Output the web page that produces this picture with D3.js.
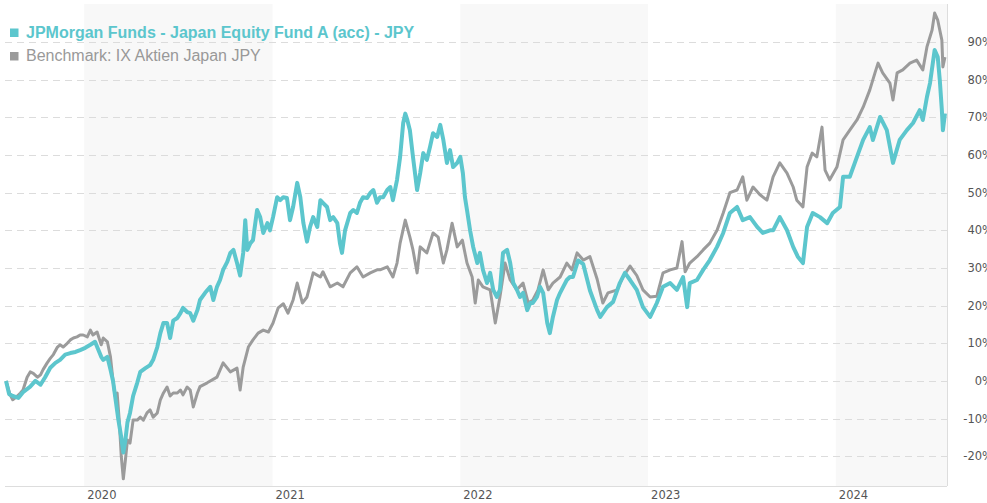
<!DOCTYPE html>
<html>
<head>
<meta charset="utf-8">
<script src="https://cdn.jsdelivr.net/npm/d3@7"></script>
<style>
  html, body { margin: 0; padding: 0; background: #fff; }
  #chart { width: 987px; height: 503px; }
</style>
</head>
<body>
<div id="chart"></div>
<script>
// Fonds: JPMorgan Funds - Japan Equity Fund A (acc) - JPY (Wertentwicklung in %)
const fundDates = [
  "2019-08-02","2019-08-08","2019-08-15","2019-08-26","2019-09-04","2019-09-18","2019-09-28","2019-10-08","2019-10-17","2019-10-27",
  "2019-11-06","2019-11-15","2019-11-25","2019-12-05","2019-12-15","2019-12-24","2020-01-03","2020-01-13","2020-01-22","2020-02-03",
  "2020-02-07","2020-02-15","2020-02-21","2020-02-26","2020-03-03","2020-03-07","2020-03-13","2020-03-17","2020-03-21","2020-03-25",
  "2020-03-30","2020-04-05","2020-04-13","2020-04-19","2020-04-29","2020-05-08","2020-05-14","2020-05-22","2020-05-28","2020-06-03",
  "2020-06-10","2020-06-16","2020-06-22","2020-06-30","2020-07-06","2020-07-11","2020-07-19","2020-07-25","2020-07-31","2020-08-08",
  "2020-08-13","2020-08-23","2020-09-02","2020-09-08","2020-09-15","2020-09-21","2020-09-27","2020-10-05","2020-10-11","2020-10-17",
  "2020-10-24","2020-10-30","2020-11-05","2020-11-09","2020-11-13","2020-11-19","2020-11-24","2020-12-02","2020-12-08","2020-12-14",
  "2020-12-22","2020-12-27","2021-01-02","2021-01-10","2021-01-16","2021-01-22","2021-01-29","2021-02-04","2021-02-10","2021-02-18",
  "2021-02-24","2021-03-02","2021-03-09","2021-03-15","2021-03-21","2021-03-29","2021-04-04","2021-04-09","2021-04-17","2021-04-23",
  "2021-04-29","2021-05-07","2021-05-12","2021-05-16","2021-05-22","2021-06-01","2021-06-07","2021-06-14","2021-06-20","2021-06-26",
  "2021-07-04","2021-07-10","2021-07-16","2021-07-23","2021-07-29","2021-08-04","2021-08-12","2021-08-18","2021-08-23","2021-08-31",
  "2021-09-06","2021-09-12","2021-09-16","2021-09-20","2021-09-25","2021-10-01","2021-10-09","2021-10-15","2021-10-21","2021-10-28",
  "2021-11-03","2021-11-09","2021-11-17","2021-11-23","2021-11-29","2021-12-06","2021-12-12","2021-12-18","2021-12-26","2022-01-01",
  "2022-01-06","2022-01-10","2022-01-14","2022-01-20","2022-01-26","2022-02-03","2022-02-08","2022-02-14","2022-02-22","2022-02-28",
  "2022-03-06","2022-03-13","2022-03-19","2022-03-25","2022-04-02","2022-04-08","2022-04-14","2022-04-21","2022-04-27","2022-05-03",
  "2022-05-11","2022-05-17","2022-05-22","2022-05-30","2022-06-05","2022-06-11","2022-06-19","2022-06-24","2022-06-30","2022-07-08",
  "2022-07-14","2022-07-20","2022-07-27","2022-08-02","2022-08-08","2022-08-18","2022-08-28","2022-09-10","2022-09-24","2022-09-30",
  "2022-10-13","2022-10-25","2022-11-07","2022-11-17","2022-11-27","2022-12-10","2022-12-22","2023-01-05","2023-01-18","2023-01-30",
  "2023-02-13","2023-02-26","2023-03-10","2023-03-18","2023-03-23","2023-04-06","2023-04-18","2023-05-01","2023-05-15","2023-05-27",
  "2023-06-09","2023-06-23","2023-07-04","2023-07-18","2023-08-01","2023-08-12","2023-08-26","2023-09-01","2023-09-14","2023-09-28",
  "2023-10-10","2023-10-19","2023-10-29","2023-11-06","2023-11-17","2023-12-01","2023-12-15","2023-12-26","2024-01-09","2024-01-15",
  "2024-01-28","2024-02-11","2024-02-23","2024-03-07","2024-03-13","2024-03-27","2024-04-09","2024-04-21","2024-05-04","2024-05-18",
  "2024-05-30","2024-06-12","2024-06-18","2024-06-26","2024-07-02","2024-07-11","2024-07-17","2024-07-21","2024-07-25","2024-07-27",
  "2024-07-31"
];
const fundValues = [
  0, -3.5, -4, -4.5, -3, -1.5, 0, -1, 1, 3.5,
  4.8, 5.6, 7, 7.4, 7.7, 8.2, 8.8, 9.6, 10.4, 6.4,
  5.6, 6.4, 3, 0, -6, -10, -15, -19, -15.7, -11,
  -8.5, -4, -0.5, 2.4, 3.4, 4.2, 5.6, 9, 12.7, 15.4,
  15.4, 11.4, 16, 16.7, 18, 19.4, 18.3, 18, 16, 18.8,
  21.5, 23.4, 25, 21.5, 25, 26.8, 29.5, 31.6, 34, 34.8,
  31.3, 28, 34, 42.7, 34.8, 36.6, 37.4, 45.4, 43.5, 39.3,
  41.9, 40, 43.5, 48.8, 48, 48.8, 48.6, 42.7, 46.2, 52.6,
  48.8, 41.9, 37, 40.9, 43.5, 40.9, 48, 47.3, 46.2, 42.7,
  43.5, 41.9, 36.6, 34, 40, 44.6, 45.4, 44.6, 47.3, 48.8,
  48.6, 49.9, 50.7, 47.3, 48.8, 48.8, 50.7, 51.5, 48, 53.4,
  59.5, 68.5, 71, 69.3, 66.6, 59.5, 50.7, 55.2, 60.5, 58.7,
  62.1, 65.8, 64.8, 68, 64, 57.9, 61.3, 56.8, 57.9, 59.5,
  55.2, 48.8, 45.4, 40, 35.6, 31.3, 34, 29.5, 26, 28.7,
  24.2, 22.3, 24.2, 34, 34.8, 31.3, 26, 24.2, 22.3, 23.4,
  18.8, 20.7, 20.7, 22.3, 25, 23.4, 15.4, 12.7, 17, 21.5,
  23.4, 25, 26.8, 27.6, 27.6, 32, 31, 24, 18.8, 17,
  19.6, 21, 26, 28.7, 26.8, 24.2, 19.6, 17, 20.7, 25,
  26, 24.2, 27.6, 19.6, 26, 26.8, 29.5, 32.1, 35.6, 39.3,
  44.6, 46.2, 42.7, 43.5, 40.9, 39.3, 40, 40, 43.5, 40,
  35.6, 33, 31.3, 40.9, 44.6, 43.5, 41.9, 44.6, 46.2, 54.2,
  54.2, 59.5, 64, 67.4, 64, 70.1, 66.6, 57.9, 64, 66.6,
  68.5, 71.9, 69.3, 75.4, 79.1, 87.9, 86, 79.9, 71.9, 66.6,
  71
];

// Benchmark: IX Aktien Japan JPY
const benchDates = [
  "2019-08-02","2019-08-10","2019-08-15","2019-08-24","2019-08-30","2019-09-04","2019-09-12","2019-09-18","2019-09-24","2019-10-02",
  "2019-10-08","2019-10-13","2019-10-21","2019-10-27","2019-11-02","2019-11-10","2019-11-15","2019-11-21","2019-11-29","2019-12-05",
  "2019-12-11","2019-12-18","2019-12-24","2019-12-30","2020-01-07","2020-01-13","2020-01-18","2020-01-26","2020-02-03","2020-02-07",
  "2020-02-15","2020-02-21","2020-02-26","2020-03-01","2020-03-05","2020-03-09","2020-03-13","2020-03-17","2020-03-21","2020-03-25",
  "2020-03-30","2020-04-05","2020-04-13","2020-04-19","2020-04-25","2020-05-02","2020-05-08","2020-05-14","2020-05-22","2020-05-28",
  "2020-06-03","2020-06-10","2020-06-16","2020-06-22","2020-06-30","2020-07-06","2020-07-11","2020-07-19","2020-07-25","2020-07-31",
  "2020-08-08","2020-08-13","2020-08-27","2020-09-15","2020-09-27","2020-10-11","2020-10-24","2020-10-30","2020-11-05","2020-11-15",
  "2020-11-24","2020-12-04","2020-12-14","2020-12-24","2021-01-02","2021-01-12","2021-01-22","2021-01-31","2021-02-10","2021-02-18",
  "2021-02-28","2021-03-09","2021-03-21","2021-04-04","2021-04-09","2021-04-23","2021-05-07","2021-05-18","2021-06-01","2021-06-14",
  "2021-06-26","2021-07-10","2021-07-23","2021-07-29","2021-08-12","2021-08-23","2021-08-31","2021-09-06","2021-09-16","2021-09-25",
  "2021-10-01","2021-10-09","2021-10-15","2021-10-28","2021-11-09","2021-11-19","2021-11-29","2021-12-06","2021-12-16","2021-12-26",
  "2022-01-05","2022-01-14","2022-01-24","2022-01-30","2022-02-05","2022-02-14","2022-02-28","2022-03-10","2022-03-19","2022-03-29",
  "2022-04-08","2022-04-21","2022-05-03","2022-05-13","2022-05-22","2022-06-01","2022-06-11","2022-06-21","2022-06-30","2022-07-14",
  "2022-07-27","2022-08-06","2022-08-16","2022-08-28","2022-09-10","2022-09-24","2022-10-05","2022-10-15","2022-11-02","2022-11-13",
  "2022-11-27","2022-12-10","2022-12-22","2023-01-05","2023-01-18","2023-01-30","2023-02-13","2023-02-26","2023-03-08","2023-03-14",
  "2023-03-23","2023-04-06","2023-04-18","2023-05-01","2023-05-15","2023-05-27","2023-06-09","2023-06-23","2023-07-04","2023-07-12",
  "2023-07-24","2023-08-06","2023-08-20","2023-09-01","2023-09-14","2023-09-28","2023-10-10","2023-10-17","2023-10-29","2023-11-06",
  "2023-11-16","2023-11-25","2023-12-05","2023-12-11","2023-12-20","2024-01-03","2024-01-15","2024-01-28","2024-02-11","2024-02-23",
  "2024-03-07","2024-03-17","2024-03-23","2024-04-01","2024-04-15","2024-04-21","2024-04-29","2024-05-10","2024-05-24","2024-06-06",
  "2024-06-18","2024-06-26","2024-07-06","2024-07-11","2024-07-17","2024-07-25","2024-07-27","2024-07-31"
];
const benchValues = [
  0, -3.7, -5, -4, -3.2, -2.4, 1, 2.4, 2, 1,
  1.6, 3, 4.8, 6, 7, 9, 9.6, 9, 10, 10.9,
  11.4, 11.7, 12.2, 12.2, 11.7, 13.5, 12.2, 13, 9.6, 11.4,
  10.4, 6.4, 0, -4, -3.2, -10.4, -20, -26, -21, -15.7,
  -16.5, -10.4, -10.4, -9.6, -10.4, -8.5, -7.7, -9.6, -8.5, -5,
  -3.2, -1.6, -4, -3.2, -3.2, -2.4, -3.7, -1.6, -2.4, -6.9,
  -3.2, -1.5, -0.5, 1, 4.8, 2.4, 3.4, -2.4, 3.7, 9,
  10.9, 12.7, 13.5, 13, 15.4, 19.4, 20.5, 18, 21.5, 26,
  20.7, 22.3, 28.7, 27.6, 29, 25, 26, 25, 28.7, 30.3,
  27.6, 28.7, 29.5, 29.5, 30.3, 27.6, 31.3, 36.6, 42.7, 38.2,
  34.8, 28.7, 35.6, 34, 39.3, 38.2, 31.3, 34.8, 41.9, 35.6,
  37.4, 31.3, 27.6, 20.7, 26.8, 25, 24.2, 15.4, 22.3, 31.3,
  26.8, 24.2, 26, 20.7, 21.5, 24.2, 29.5, 24.2, 26, 27.6,
  31.3, 29.5, 34, 32.1, 33, 27, 20.7, 23.4, 24.2, 27.6,
  30.5, 28, 24.2, 22.3, 22.5, 28.7, 29.5, 30, 37, 29,
  31.3, 33, 34.8, 36.6, 40, 44.6, 50, 50.7, 54.2, 48,
  51.5, 49.5, 48, 54.2, 57.9, 55.2, 51.5, 48, 46.2, 56.8,
  60.5, 59.5, 67.4, 56, 53.4, 56.8, 64, 66.6, 69.3, 72.7,
  77.3, 81.8, 84.4, 81.8, 79.1, 74.6, 81.8, 82.6, 84.4, 85.2,
  82.6, 88.7, 93.2, 97.7, 95.8, 90.5, 83.4, 86
];

const yTicks = [-20, -10, 0, 10, 20, 30, 40, 50, 60, 70, 80, 90];
const yearTicks = ["2020", "2021", "2022", "2023", "2024"];
const legendLabels = ["JPMorgan Funds - Japan Equity Fund A (acc) - JPY", "Benchmark: IX Aktien Japan JPY"];

const colors = { fund: "#5cc6cd", bench: "#9b9b9b" };

const parse = d3.timeParse("%Y-%m-%d");
const fund = fundDates.map((d, i) => ({ date: parse(d), value: fundValues[i] }));
const bench = benchDates.map((d, i) => ({ date: parse(d), value: benchValues[i] }));

const width = 987, height = 503;
const margins = { top: 4, right: 40, bottom: 17, left: 5 };

const svg = d3.select("#chart")
  .append("svg")
  .attr("width", width)
  .attr("height", height);

// Skalen
const xScale = d3.scaleTime()
  .domain([parse("2019-07-31"), parse("2024-08-04")])
  .range([margins.left, width - margins.right]);

const yScale = d3.scaleLinear()
  .domain([-27.9, 100.1])
  .range([height - margins.bottom, margins.top]);

const plotBottom = height - margins.bottom;
const plotRight = width - margins.right;

// Jahresbänder (jedes zweite Jahr grau hinterlegt)
const bandYears = [2020, 2022, 2024];
svg.append("g")
  .selectAll("rect")
  .data(bandYears)
  .join("rect")
  .attr("x", d => xScale(new Date(d, 0, 1)))
  .attr("y", margins.top)
  .attr("width", d => Math.min(plotRight, xScale(new Date(d + 1, 0, 1))) - xScale(new Date(d, 0, 1)))
  .attr("height", plotBottom - margins.top)
  .attr("fill", "#f8f8f8");

// Gitterlinien
svg.append("g")
  .selectAll("line")
  .data(yTicks)
  .join("line")
  .attr("x1", margins.left)
  .attr("x2", plotRight)
  .attr("y1", d => Math.round(yScale(d)) + 0.5)
  .attr("y2", d => Math.round(yScale(d)) + 0.5)
  .attr("stroke", "#dcdcdc")
  .attr("stroke-width", 1)
  .attr("stroke-dasharray", "7,5");

// Rahmen rechts und unten
svg.append("line")
  .attr("x1", plotRight + 0.5).attr("x2", plotRight + 0.5)
  .attr("y1", margins.top).attr("y2", plotBottom)
  .attr("stroke", "#dddddd");
svg.append("line")
  .attr("x1", margins.left).attr("x2", plotRight)
  .attr("y1", plotBottom + 0.5).attr("y2", plotBottom + 0.5)
  .attr("stroke", "#dddddd");

// Y-Achse rechts (im Original am Fensterrand abgeschnitten)
svg.append("g")
  .selectAll("text")
  .data(yTicks)
  .join("text")
  .attr("x", 993)
  .attr("y", d => yScale(d))
  .attr("dy", "0.35em")
  .attr("text-anchor", "end")
  .attr("font-family", "Verdana, 'DejaVu Sans', sans-serif")
  .attr("font-size", "11.5px")
  .attr("fill", "#555")
  .text(d => `${d}%`);

// X-Achse (Jahre)
svg.append("g")
  .selectAll("text")
  .data(yearTicks)
  .join("text")
  .attr("x", d => xScale(parse(`${d}-01-01`)) + 3)
  .attr("y", 499)
  .attr("text-anchor", "start")
  .attr("font-family", "Verdana, 'DejaVu Sans', sans-serif")
  .attr("font-size", "11.5px")
  .attr("fill", "#555")
  .text(d => d);

// Linien
const line = d3.line()
  .x(d => xScale(d.date))
  .y(d => yScale(d.value));

svg.append("path")
  .datum(bench)
  .attr("fill", "none")
  .attr("stroke", colors.bench)
  .attr("stroke-width", 3)
  .attr("stroke-linejoin", "round")
  .attr("d", line);

svg.append("path")
  .datum(fund)
  .attr("fill", "none")
  .attr("stroke", colors.fund)
  .attr("stroke-width", 4)
  .attr("stroke-linejoin", "round")
  .attr("d", line);

// Legende
const legend = svg.append("g");
const legendItems = [
  { label: legendLabels[0], color: colors.fund, weight: "bold", textColor: colors.fund },
  { label: legendLabels[1], color: colors.bench, weight: "normal", textColor: "#999" }
];
legendItems.forEach((item, i) => {
  const y = 37.5 + i * 23.5;
  legend.append("rect")
    .attr("x", 10)
    .attr("y", y - 9)
    .attr("width", 8.5)
    .attr("height", 8.5)
    .attr("fill", item.color);
  legend.append("text")
    .attr("x", 26)
    .attr("y", y)
    .attr("font-family", "Arial, 'Liberation Sans', sans-serif")
    .attr("font-size", "16px")
    .attr("font-weight", item.weight)
    .attr("fill", item.textColor)
    .text(item.label);
});
</script>
</body>
</html>
